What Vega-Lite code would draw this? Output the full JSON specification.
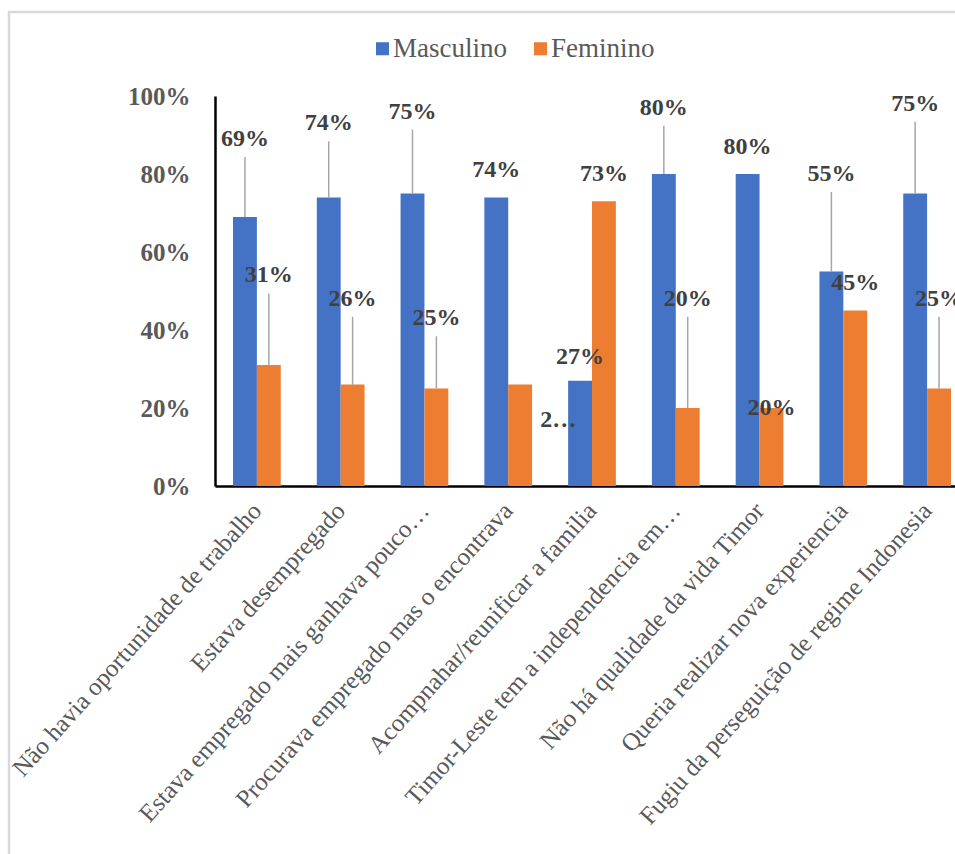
{
  "$schema": "https://vega.github.io/schema/vega-lite/v6.json",
  "autosize": "none",
  "width": 952,
  "height": 847,
  "padding": {"left": 9, "top": 12, "right": -6, "bottom": -5},
  "background": "white",
  "config": {
    "view": {"stroke": "#D9D9D9", "strokeWidth": 2.5},
    "font": "Liberation Serif"
  },
  "data": {
    "values": [
      {"motivo": "Não havia oportunidade de trabalho", "sexo": "Masculino", "valor": 0.69, "nivel_rotulo": 0.89},
      {"motivo": "Não havia oportunidade de trabalho", "sexo": "Feminino", "valor": 0.31, "nivel_rotulo": 0.54},
      {"motivo": "Estava desempregado", "sexo": "Masculino", "valor": 0.74, "nivel_rotulo": 0.93},
      {"motivo": "Estava desempregado", "sexo": "Feminino", "valor": 0.26, "nivel_rotulo": 0.48},
      {"motivo": "Estava empregado mais ganhava pouco…", "sexo": "Masculino", "valor": 0.75, "nivel_rotulo": 0.96},
      {"motivo": "Estava empregado mais ganhava pouco…", "sexo": "Feminino", "valor": 0.25, "nivel_rotulo": 0.43},
      {"motivo": "Procurava empregado mas o encontrava", "sexo": "Masculino", "valor": 0.74, "nivel_rotulo": 0.81},
      {"motivo": "Procurava empregado mas o encontrava", "sexo": "Feminino", "valor": 0.26, "nivel_rotulo": 0.17},
      {"motivo": "Acompnahar/reunificar a familia", "sexo": "Masculino", "valor": 0.27, "nivel_rotulo": 0.33},
      {"motivo": "Acompnahar/reunificar a familia", "sexo": "Feminino", "valor": 0.73, "nivel_rotulo": 0.80},
      {"motivo": "Timor-Leste tem a independencia em…", "sexo": "Masculino", "valor": 0.80, "nivel_rotulo": 0.97},
      {"motivo": "Timor-Leste tem a independencia em…", "sexo": "Feminino", "valor": 0.20, "nivel_rotulo": 0.48},
      {"motivo": "Não há qualidade da vida Timor", "sexo": "Masculino", "valor": 0.80, "nivel_rotulo": 0.87},
      {"motivo": "Não há qualidade da vida Timor", "sexo": "Feminino", "valor": 0.20, "nivel_rotulo": 0.20},
      {"motivo": "Queria realizar nova experiencia", "sexo": "Masculino", "valor": 0.55, "nivel_rotulo": 0.80},
      {"motivo": "Queria realizar nova experiencia", "sexo": "Feminino", "valor": 0.45, "nivel_rotulo": 0.52},
      {"motivo": "Fugiu da perseguição de regime Indonesia", "sexo": "Masculino", "valor": 0.75, "nivel_rotulo": 0.98},
      {"motivo": "Fugiu da perseguição de regime Indonesia", "sexo": "Feminino", "valor": 0.25, "nivel_rotulo": 0.48}
    ]
  },
  "encoding": {
    "x": {
      "field": "motivo",
      "type": "nominal",
      "sort": null,
      "scale": {"range": [206, 960], "paddingInner": 0.43, "paddingOuter": 0.215},
      "axis": {
        "title": null,
        "offset": -373,
        "labelAngle": -48,
        "labelAlign": "right",
        "labelBaseline": "middle",
        "labelFont": "Liberation Serif",
        "labelFontSize": 25,
        "labelColor": "#595959",
        "labelPadding": 20,
        "labelLimit": 0,
        "labelOverlap": false,
        "ticks": false,
        "domainColor": "#000000",
        "domainWidth": 2.5
      }
    },
    "xOffset": {"field": "sexo", "type": "nominal", "sort": ["Masculino", "Feminino"], "scale": {"paddingInner": 0, "paddingOuter": 0}},
    "y": {
      "field": "valor",
      "type": "quantitative",
      "scale": {"domain": [0, 1], "range": [474, 84], "nice": false},
      "axis": {
        "title": null,
        "offset": -206,
        "values": [0, 0.2, 0.4, 0.6, 0.8, 1],
        "format": ".0%",
        "grid": false,
        "ticks": false,
        "tickSize": 0,
        "labelFont": "Liberation Serif",
        "labelFontWeight": "bold",
        "labelFontSize": 25,
        "labelColor": "#595959",
        "labelPadding": 25,
        "domainColor": "#000000",
        "domainWidth": 2.5
      }
    }
  },
  "layer": [
    {
      "mark": {"type": "bar"},
      "encoding": {
        "color": {
          "field": "sexo",
          "type": "nominal",
          "scale": {"domain": ["Masculino", "Feminino"], "range": ["#4472C4", "#ED7D31"]},
          "legend": {
            "title": null,
            "orient": "none",
            "direction": "horizontal",
            "legendX": 360,
            "legendY": 23,
            "symbolType": "square",
            "symbolSize": 170,
            "symbolStrokeWidth": 0,
            "labelFont": "Liberation Serif",
            "labelFontSize": 27,
            "labelColor": "#595959",
            "labelOffset": -3,
            "columnPadding": 20
          }
        }
      }
    },
    {
      "transform": [{"filter": "datum.nivel_rotulo - datum.valor > 0.1"}],
      "mark": {"type": "rule", "color": "#A6A6A6", "strokeWidth": 1.5, "y2Offset": 18},
      "encoding": {
        "y2": {"field": "nivel_rotulo"}
      }
    },
    {
      "transform": [{"filter": "datum.nivel_rotulo >= datum.valor"}],
      "mark": {"type": "text", "font": "Liberation Serif", "fontWeight": "bold", "fontSize": 24, "color": "#404040", "baseline": "middle", "align": "center"},
      "encoding": {
        "y": {"field": "nivel_rotulo", "type": "quantitative"},
        "text": {"field": "valor", "type": "quantitative", "format": ".0%"}
      }
    },
    {
      "transform": [{"filter": "datum.nivel_rotulo < datum.valor"}],
      "mark": {"type": "text", "font": "Liberation Serif", "fontWeight": "bold", "fontSize": 24, "color": "#404040", "baseline": "middle", "align": "left", "dx": 20, "limit": 38},
      "encoding": {
        "y": {"field": "nivel_rotulo", "type": "quantitative"},
        "text": {"field": "valor", "type": "quantitative", "format": ".0%"}
      }
    }
  ]
}
